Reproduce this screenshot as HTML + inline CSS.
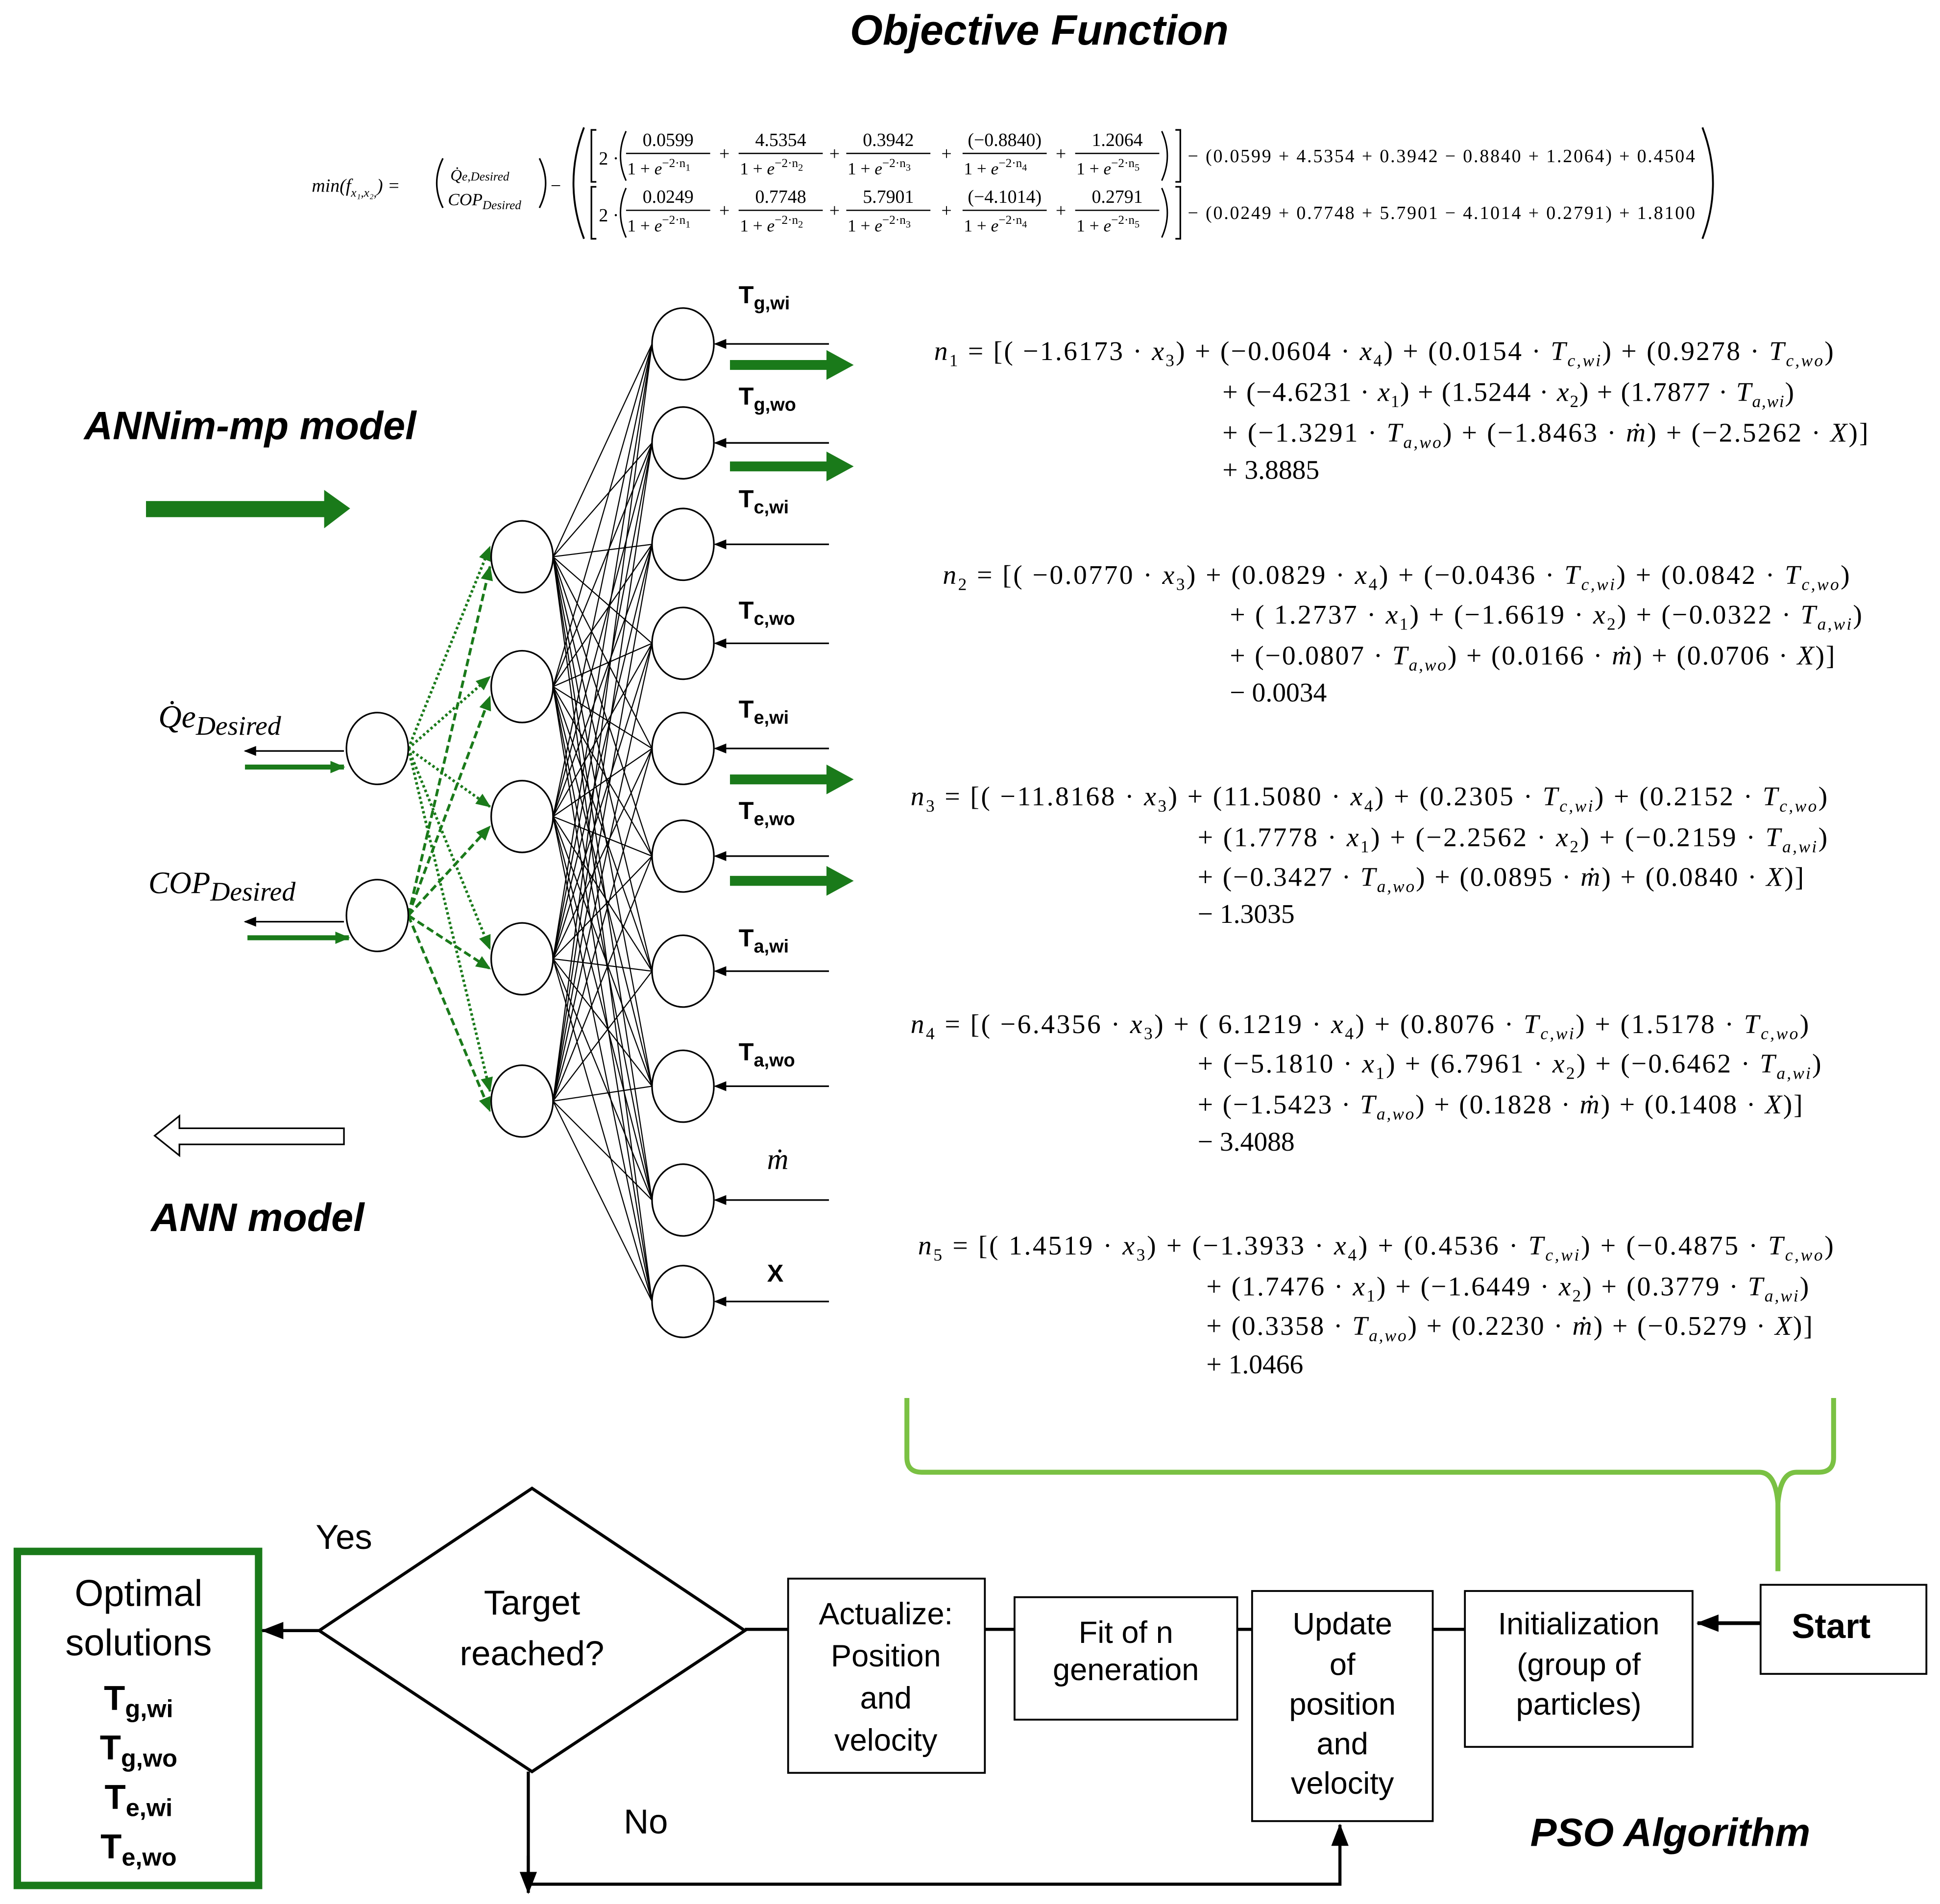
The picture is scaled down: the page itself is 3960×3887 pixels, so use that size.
<!DOCTYPE html>
<html><head><meta charset="utf-8"><style>
html,body{margin:0;padding:0;background:#fff}
svg{display:block}
.s{font-family:"Liberation Serif",serif}
.a{font-family:"Liberation Sans",sans-serif}
</style></head><body>
<svg id="g" width="3960" height="3887" viewBox="0 0 1568 1539" preserveAspectRatio="none" xmlns="http://www.w3.org/2000/svg">
<defs>
<marker id="ak" markerWidth="10" markerHeight="10" refX="9" refY="5" orient="auto" markerUnits="userSpaceOnUse"><path d="M0,1 L10,5 L0,9 z" fill="#000"/></marker>
<marker id="ag" markerWidth="12" markerHeight="12" refX="11" refY="6" orient="auto" markerUnits="userSpaceOnUse"><path d="M0,1 L12,6 L0,11 z" fill="#1a7a1a"/></marker>
<marker id="ab" markerWidth="18" markerHeight="18" refX="17" refY="9" orient="auto" markerUnits="userSpaceOnUse"><path d="M0,2 L18,9 L0,16 z" fill="#000"/></marker>
</defs>
<rect width="1568" height="1539" fill="#fff"/>
<text x="840" y="36" text-anchor="middle" class="a" font-size="34" font-weight="bold" font-style="italic">Objective Function</text>

<!-- formula -->
<g class="s" font-style="italic" font-size="15">
<text x="252" y="155">min(f<tspan font-size="10" dy="4">x₁,x₂,</tspan><tspan dy="-4">) = </tspan></text>
<path d="M358,128 Q348,148 358,168 M436,128 Q446,148 436,168" fill="none" stroke="#000" stroke-width="1.3"/>
<text x="364" y="146" font-size="13">Q̇<tspan font-size="10">e,Desired</tspan></text>
<text x="362" y="166" font-size="14">COP<tspan font-size="10" dy="3">Desired</tspan></text>
<text x="445" y="155" font-style="normal">−</text>
<path d="M472,103 Q455,148 472,193" fill="none" stroke="#000" stroke-width="1.5"/>
<g font-style="normal">
<path d="M482,105 h-4 v42 h4 M482,151 h-4 v42 h4 M950,105 h4 v42 h-4 M950,151 h4 v42 h-4" fill="none" stroke="#000" stroke-width="1.3"/>
<text x="484" y="133">2 ·</text><text x="484" y="179">2 ·</text>
<path d="M506,106 Q497,126 506,146 M506,152 Q497,172 506,192 M939,106 Q948,126 939,146 M939,152 Q948,172 939,192" fill="none" stroke="#000" stroke-width="1.2"/>
</g>
<g id="fr"></g>
<text x="960" y="131" font-style="normal" font-size="15" textLength="410" lengthAdjust="spacing">− (0.0599 + 4.5354 + 0.3942  − 0.8840 + 1.2064) + 0.4504</text>
<text x="960" y="177" font-style="normal" font-size="15" textLength="410" lengthAdjust="spacing">− (0.0249 + 0.7748 + 5.7901  − 4.1014 + 0.2791) + 1.8100</text>
<path d="M1376,103 Q1393,148 1376,193" fill="none" stroke="#000" stroke-width="1.5"/>
</g>

<!-- network labels -->
<text x="68" y="355" class="a" font-size="32" font-weight="bold" font-style="italic">ANNim-mp model</text>
<text x="122" y="995" class="a" font-size="32" font-weight="bold" font-style="italic">ANN model</text>
<path d="M118,405 H262 V396 L283,411 L262,427 V418 H118 z" fill="#1a7a1a"/>
<path d="M278,912 H145 V902 L125,918 L145,934 V925 H278 z" fill="#fff" stroke="#000" stroke-width="1.3"/>
<text x="128" y="588" class="s" font-size="26" font-style="italic">Q̇e<tspan font-size="22" dy="6">Desired</tspan></text>
<text x="120" y="722" class="s" font-size="25" font-style="italic">COP<tspan font-size="22" dy="6">Desired</tspan></text>
<line x1="278" y1="607" x2="198" y2="607" stroke="#000" stroke-width="1.3" marker-end="url(#ak)"/>
<line x1="278" y1="745" x2="198" y2="745" stroke="#000" stroke-width="1.3" marker-end="url(#ak)"/>
<line x1="198" y1="620" x2="278" y2="620" stroke="#1a7a1a" stroke-width="4" marker-end="url(#ag)"/>
<line x1="200" y1="758" x2="282" y2="758" stroke="#1a7a1a" stroke-width="4" marker-end="url(#ag)"/>

<g id="mesh" stroke="#000" stroke-width="0.9"></g>
<g id="gr"></g>
<g id="nodes" fill="#fff" stroke="#000" stroke-width="1.3"></g>
<g id="outs" class="a" font-weight="bold"></g>

<!-- equations -->
<g class="s" font-size="22">
<text x="755" y="291" textLength="727" lengthAdjust="spacing"><tspan font-style="italic">n</tspan><tspan font-size="14" dy="5">1</tspan><tspan dy="-5"> = [(  −1.6173 · </tspan><tspan font-style="italic">x</tspan><tspan font-size="14" dy="5">3</tspan><tspan dy="-5">) + (−0.0604 · </tspan><tspan font-style="italic">x</tspan><tspan font-size="14" dy="5">4</tspan><tspan dy="-5">) + (0.0154 · </tspan><tspan font-style="italic">T</tspan><tspan font-size="14" font-style="italic" dy="5">c,wi</tspan><tspan dy="-5">) + (0.9278 · </tspan><tspan font-style="italic">T</tspan><tspan font-size="14" font-style="italic" dy="5">c,wo</tspan><tspan dy="-5">)</tspan></text>
<text x="988" y="324" textLength="462" lengthAdjust="spacing">+ (−4.6231 · <tspan font-style="italic">x</tspan><tspan font-size="14" dy="5">1</tspan><tspan dy="-5">) + (1.5244 · </tspan><tspan font-style="italic">x</tspan><tspan font-size="14" dy="5">2</tspan><tspan dy="-5">) + (1.7877 · </tspan><tspan font-style="italic">T</tspan><tspan font-size="14" font-style="italic" dy="5">a,wi</tspan><tspan dy="-5">)</tspan></text>
<text x="988" y="357" textLength="522" lengthAdjust="spacing">+ (−1.3291 · <tspan font-style="italic">T</tspan><tspan font-size="14" font-style="italic" dy="5">a,wo</tspan><tspan dy="-5">) + (−1.8463 · </tspan><tspan font-style="italic">ṁ</tspan>) + (−2.5262 · <tspan font-style="italic">X</tspan>)]</text>
<text x="988" y="387">+  3.8885</text>

<text x="762" y="472" textLength="733" lengthAdjust="spacing"><tspan font-style="italic">n</tspan><tspan font-size="14" dy="5">2</tspan><tspan dy="-5"> = [(   −0.0770 · </tspan><tspan font-style="italic">x</tspan><tspan font-size="14" dy="5">3</tspan><tspan dy="-5">) + (0.0829 · </tspan><tspan font-style="italic">x</tspan><tspan font-size="14" dy="5">4</tspan><tspan dy="-5">) + (−0.0436 · </tspan><tspan font-style="italic">T</tspan><tspan font-size="14" font-style="italic" dy="5">c,wi</tspan><tspan dy="-5">) + (0.0842 · </tspan><tspan font-style="italic">T</tspan><tspan font-size="14" font-style="italic" dy="5">c,wo</tspan><tspan dy="-5">)</tspan></text>
<text x="994" y="504" textLength="511" lengthAdjust="spacing">+ ( 1.2737 · <tspan font-style="italic">x</tspan><tspan font-size="14" dy="5">1</tspan><tspan dy="-5">) + (−1.6619 · </tspan><tspan font-style="italic">x</tspan><tspan font-size="14" dy="5">2</tspan><tspan dy="-5">) + (−0.0322 · </tspan><tspan font-style="italic">T</tspan><tspan font-size="14" font-style="italic" dy="5">a,wi</tspan><tspan dy="-5">)</tspan></text>
<text x="994" y="537" textLength="489" lengthAdjust="spacing">+ (−0.0807 · <tspan font-style="italic">T</tspan><tspan font-size="14" font-style="italic" dy="5">a,wo</tspan><tspan dy="-5">) + (0.0166 · </tspan><tspan font-style="italic">ṁ</tspan>) + (0.0706 · <tspan font-style="italic">X</tspan>)]</text>
<text x="994" y="567">− 0.0034</text>

<text x="736" y="651" textLength="741" lengthAdjust="spacing"><tspan font-style="italic">n</tspan><tspan font-size="14" dy="5">3</tspan><tspan dy="-5"> = [(  −11.8168 · </tspan><tspan font-style="italic">x</tspan><tspan font-size="14" dy="5">3</tspan><tspan dy="-5">) + (11.5080  · </tspan><tspan font-style="italic">x</tspan><tspan font-size="14" dy="5">4</tspan><tspan dy="-5">) + (0.2305 · </tspan><tspan font-style="italic">T</tspan><tspan font-size="14" font-style="italic" dy="5">c,wi</tspan><tspan dy="-5">) + (0.2152 · </tspan><tspan font-style="italic">T</tspan><tspan font-size="14" font-style="italic" dy="5">c,wo</tspan><tspan dy="-5">)</tspan></text>
<text x="968" y="684" textLength="509" lengthAdjust="spacing">+ (1.7778 · <tspan font-style="italic">x</tspan><tspan font-size="14" dy="5">1</tspan><tspan dy="-5">) + (−2.2562 · </tspan><tspan font-style="italic">x</tspan><tspan font-size="14" dy="5">2</tspan><tspan dy="-5">) + (−0.2159  · </tspan><tspan font-style="italic">T</tspan><tspan font-size="14" font-style="italic" dy="5">a,wi</tspan><tspan dy="-5">)</tspan></text>
<text x="968" y="716" textLength="490" lengthAdjust="spacing">+ (−0.3427 · <tspan font-style="italic">T</tspan><tspan font-size="14" font-style="italic" dy="5">a,wo</tspan><tspan dy="-5">) + (0.0895 · </tspan><tspan font-style="italic">ṁ</tspan>) + (0.0840 · <tspan font-style="italic">X</tspan>)]</text>
<text x="968" y="746">− 1.3035</text>

<text x="736" y="835" textLength="726" lengthAdjust="spacing"><tspan font-style="italic">n</tspan><tspan font-size="14" dy="5">4</tspan><tspan dy="-5"> = [(   −6.4356 · </tspan><tspan font-style="italic">x</tspan><tspan font-size="14" dy="5">3</tspan><tspan dy="-5">) + ( 6.1219 · </tspan><tspan font-style="italic">x</tspan><tspan font-size="14" dy="5">4</tspan><tspan dy="-5">) + (0.8076 · </tspan><tspan font-style="italic">T</tspan><tspan font-size="14" font-style="italic" dy="5">c,wi</tspan><tspan dy="-5">) + (1.5178  · </tspan><tspan font-style="italic">T</tspan><tspan font-size="14" font-style="italic" dy="5">c,wo</tspan><tspan dy="-5">)</tspan></text>
<text x="968" y="867" textLength="504" lengthAdjust="spacing">+ (−5.1810 · <tspan font-style="italic">x</tspan><tspan font-size="14" dy="5">1</tspan><tspan dy="-5">) + (6.7961 · </tspan><tspan font-style="italic">x</tspan><tspan font-size="14" dy="5">2</tspan><tspan dy="-5">) + (−0.6462 · </tspan><tspan font-style="italic">T</tspan><tspan font-size="14" font-style="italic" dy="5">a,wi</tspan><tspan dy="-5">)</tspan></text>
<text x="968" y="900" textLength="489" lengthAdjust="spacing">+ (−1.5423 · <tspan font-style="italic">T</tspan><tspan font-size="14" font-style="italic" dy="5">a,wo</tspan><tspan dy="-5">) + (0.1828 · </tspan><tspan font-style="italic">ṁ</tspan>) + (0.1408 · <tspan font-style="italic">X</tspan>)]</text>
<text x="968" y="930">− 3.4088</text>

<text x="742" y="1014" textLength="740" lengthAdjust="spacing"><tspan font-style="italic">n</tspan><tspan font-size="14" dy="5">5</tspan><tspan dy="-5"> = [(   1.4519  · </tspan><tspan font-style="italic">x</tspan><tspan font-size="14" dy="5">3</tspan><tspan dy="-5">) + (−1.3933 · </tspan><tspan font-style="italic">x</tspan><tspan font-size="14" dy="5">4</tspan><tspan dy="-5">) + (0.4536 · </tspan><tspan font-style="italic">T</tspan><tspan font-size="14" font-style="italic" dy="5">c,wi</tspan><tspan dy="-5">) + (−0.4875 · </tspan><tspan font-style="italic">T</tspan><tspan font-size="14" font-style="italic" dy="5">c,wo</tspan><tspan dy="-5">)</tspan></text>
<text x="975" y="1047" textLength="487" lengthAdjust="spacing">+ (1.7476 · <tspan font-style="italic">x</tspan><tspan font-size="14" dy="5">1</tspan><tspan dy="-5">) + (−1.6449 · </tspan><tspan font-style="italic">x</tspan><tspan font-size="14" dy="5">2</tspan><tspan dy="-5">) + (0.3779 · </tspan><tspan font-style="italic">T</tspan><tspan font-size="14" font-style="italic" dy="5">a,wi</tspan><tspan dy="-5">)</tspan></text>
<text x="975" y="1079" textLength="490" lengthAdjust="spacing">+ (0.3358 · <tspan font-style="italic">T</tspan><tspan font-size="14" font-style="italic" dy="5">a,wo</tspan><tspan dy="-5">) + (0.2230 · </tspan><tspan font-style="italic">ṁ</tspan>) + (−0.5279 · <tspan font-style="italic">X</tspan>)]</text>
<text x="975" y="1110">+  1.0466</text>
</g>

<!-- brace -->
<path d="M733,1130 V1178 Q733,1190 745,1190 H1422 Q1435,1190 1437,1215 V1270 M1437,1215 Q1439,1190 1452,1190 H1470 Q1482,1190 1482,1178 V1130" fill="none" stroke="#7ac143" stroke-width="4"/>

<!-- flowchart -->
<g class="a" font-size="25" text-anchor="middle">
<rect x="14" y="1254" width="195" height="270" fill="#fff" stroke="#1a7a1a" stroke-width="6"/>
<text x="112" y="1298" font-size="30">Optimal</text>
<text x="112" y="1338" font-size="30">solutions</text>
<g font-weight="bold" font-size="28">
<text x="112" y="1382">T<tspan font-size="20" dy="6">g,wi</tspan></text>
<text x="112" y="1422">T<tspan font-size="20" dy="6">g,wo</tspan></text>
<text x="112" y="1462">T<tspan font-size="20" dy="6">e,wi</tspan></text>
<text x="112" y="1502">T<tspan font-size="20" dy="6">e,wo</tspan></text>
</g>
<polygon points="430,1203 602,1318 430,1432 258,1318" fill="#fff" stroke="#000" stroke-width="2.5"/>
<text x="430" y="1305" font-size="28">Target</text>
<text x="430" y="1346" font-size="28">reached?</text>
<text x="278" y="1252" font-size="28">Yes</text>
<text x="522" y="1482" font-size="28">No</text>
<line x1="258" y1="1318" x2="212" y2="1318" stroke="#000" stroke-width="2.5" marker-end="url(#ab)"/>
<line x1="602" y1="1317" x2="1368" y2="1317" stroke="#000" stroke-width="2.5"/>
<line x1="1423" y1="1312" x2="1372" y2="1312" stroke="#000" stroke-width="3" marker-end="url(#ab)"/>
<polyline points="427,1432 427,1523 1083,1523 1083,1475" fill="none" stroke="#000" stroke-width="2.5" marker-end="url(#ab)"/>
<line x1="427" y1="1500" x2="427" y2="1530" stroke="#000" stroke-width="2.5" marker-end="url(#ab)"/>
<rect x="637" y="1276" width="159" height="157" fill="#fff" stroke="#000" stroke-width="1.5"/>
<text x="716" y="1313">Actualize:</text><text x="716" y="1347">Position</text><text x="716" y="1381">and</text><text x="716" y="1415">velocity</text>
<rect x="820" y="1291" width="180" height="99" fill="#fff" stroke="#000" stroke-width="1.5"/>
<text x="910" y="1328">Fit of n</text><text x="910" y="1358">generation</text>
<rect x="1012" y="1286" width="146" height="186" fill="#fff" stroke="#000" stroke-width="1.5"/>
<text x="1085" y="1321">Update</text><text x="1085" y="1354">of</text><text x="1085" y="1386">position</text><text x="1085" y="1418">and</text><text x="1085" y="1450">velocity</text>
<rect x="1184" y="1286" width="184" height="126" fill="#fff" stroke="#000" stroke-width="1.5"/>
<text x="1276" y="1321">Initialization</text><text x="1276" y="1354">(group of</text><text x="1276" y="1386">particles)</text>
<rect x="1423" y="1281" width="134" height="72" fill="#fff" stroke="#000" stroke-width="1.5"/>
<text x="1480" y="1324" font-weight="bold" font-size="28">Start</text>
<text x="1350" y="1492" font-weight="bold" font-style="italic" font-size="32">PSO Algorithm</text>
</g>
<script>
var NS="http://www.w3.org/2000/svg";
function el(p,t,a,txt){var e=document.createElementNS(NS,t);for(var k in a)e.setAttribute(k,a[k]);if(txt)e.textContent=txt;p.appendChild(e);return e;}
var fr=document.getElementById('fr');
var cx=[540,631,718,812,903],nums=[["0.0599","4.5354","0.3942","(−0.8840)","1.2064"],["0.0249","0.7748","5.7901","(−4.1014)","0.2791"]];
for(var r=0;r<2;r++){var oy=r*46;for(var i=0;i<5;i++){
el(fr,'text',{x:cx[i],y:118+oy,'text-anchor':'middle','font-style':'normal'},nums[r][i]);
el(fr,'line',{x1:cx[i]-34,x2:cx[i]+34,y1:124+oy,y2:124+oy,stroke:'#000','stroke-width':1});
var t=el(fr,'text',{x:cx[i]-33,y:141+oy,'font-style':'normal','font-size':14},'1 + ');
el(t,'tspan',{'font-style':'italic'},'e');el(t,'tspan',{'font-size':10,dy:-6},'−2·n');el(t,'tspan',{'font-size':8,dy:3},''+(i+1));
if(i<4)el(fr,'text',{x:(cx[i]+cx[i+1])/2,y:129+oy,'text-anchor':'middle','font-style':'normal'},'+');
}}
var hy=[450,555,660,775,890],oyv=[278,358,440,520,605,692,785,878,970,1052],iy=[605,740];
var mesh=document.getElementById('mesh'),nodes=document.getElementById('nodes'),gr=document.getElementById('gr'),outs=document.getElementById('outs');
hy.forEach(function(h){oyv.forEach(function(o){el(mesh,'line',{x1:447,y1:h,x2:527,y2:o});});});
iy.forEach(function(a,k){hy.forEach(function(h,j){
el(gr,'line',{x1:330,y1:a,x2:396,y2:h+(k?8:-8),stroke:'#1a7a1a','stroke-width':2.2,'stroke-dasharray':k?'6,3':'2,2','marker-end':'url(#ag)'});});});
iy.forEach(function(a){el(nodes,'ellipse',{cx:305,cy:a,rx:25,ry:29});});
hy.forEach(function(a){el(nodes,'ellipse',{cx:422,cy:a,rx:25,ry:29});});
oyv.forEach(function(a){el(nodes,'ellipse',{cx:552,cy:a,rx:25,ry:29});
el(mesh,'line',{x1:670,y1:a,x2:578,y2:a,'stroke-width':1.3,'marker-end':'url(#ak)'});});
var labs=[["T","g,wi",245],["T","g,wo",327],["T","c,wi",410],["T","c,wo",500],["T","e,wi",580],["T","e,wo",662],["T","a,wi",765],["T","a,wo",857]];
labs.forEach(function(l){var t=el(outs,'text',{x:597,y:l[2],'font-size':20},l[0]);el(t,'tspan',{'font-size':15,dy:5},l[1]);});
el(outs,'text',{x:620,y:945,'font-size':24,'font-weight':'normal','font-style':'italic','font-family':'Liberation Serif'},'ṁ');
el(outs,'text',{x:620,y:1036,'font-size':20},'X');
[295,377,630,712].forEach(function(y){el(gr,'path',{d:'M590,'+(y-4)+' H668 V'+(y-12)+' L690,'+y+' L668,'+(y+12)+' V'+(y+4)+' H590 z',fill:'#1a7a1a'});});
</script>
</svg>
</body></html>
